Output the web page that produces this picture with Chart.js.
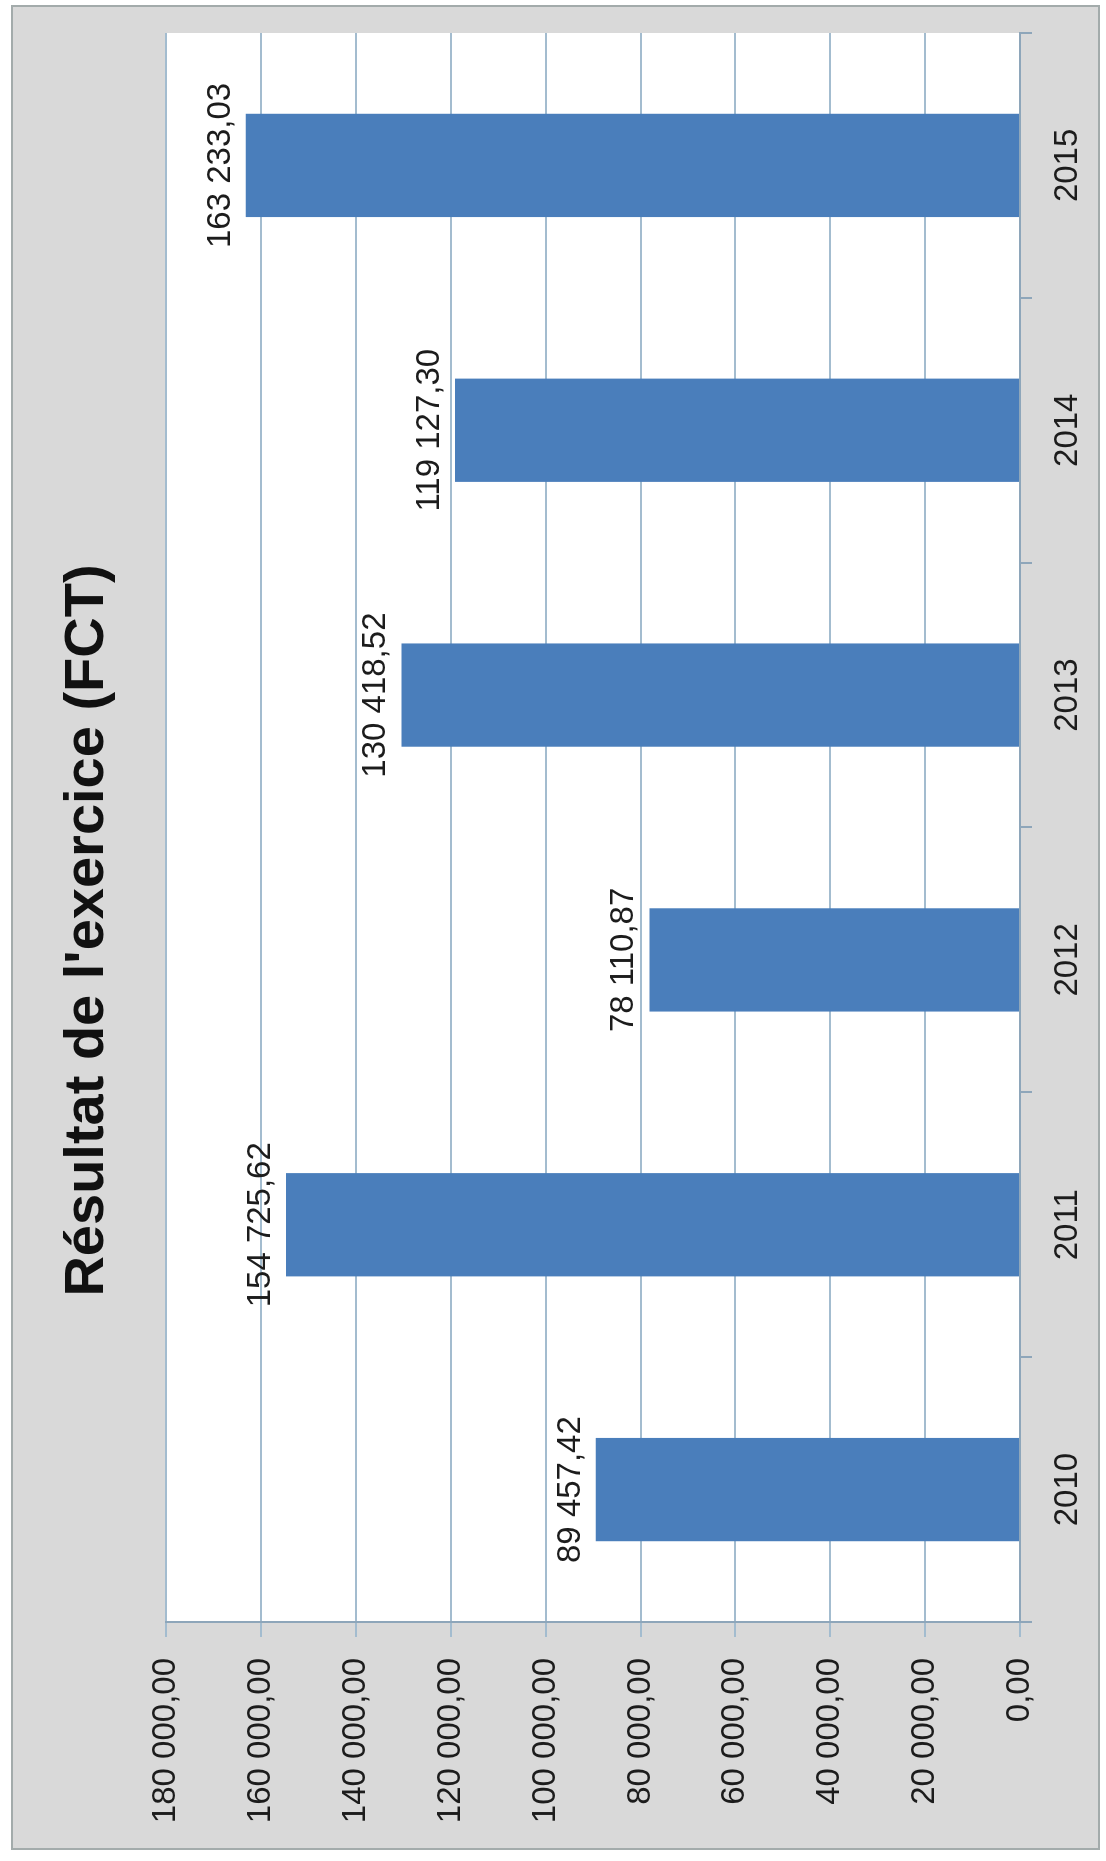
<!DOCTYPE html>
<html>
<head>
<meta charset="utf-8">
<script src="https://cdn.jsdelivr.net/npm/chart.js@4.4.0/dist/chart.umd.min.js"></script>
<style>
  html, body { margin: 0; padding: 0; background: #fff; overflow: hidden; }
  /* chart is laid out landscape, then turned a quarter to the left like the scan */
  #page { position: absolute; left: 0; top: 0; width: 1861px; height: 1106px; transform-origin: 0 0; transform: translateY(1861px) rotate(-90deg); }
  #frame { position: absolute; left: 11px; top: 11px; width: 1845px; height: 1089px; box-sizing: border-box; background: #d9d9d9; border: 2px solid #a3abab; }
  #fig { position: absolute; left: 11px; top: 11px; }
</style>
</head>
<body>
<div id="page">
  <div id="frame"></div>
  <canvas id="fig" width="1845" height="1089"></canvas>
</div>
<script>
const years = ['2010', '2011', '2012', '2013', '2014', '2015']
const result = [89457.42, 154725.62, 78110.87, 130418.52, 119127.3, 163233.03]
const valueTicks = [0, 20000, 40000, 60000, 80000, 100000, 120000, 140000, 160000, 180000]

// 163233.03 -> "163 233,03"
const frNum = (v) => {
  const [int, dec] = v.toFixed(2).split('.')
  return int.replace(/\B(?=(\d{3})+(?!\d))/g, ' ') + ',' + dec
}

const family = "'Liberation Sans', Arial, sans-serif"
const labelFont = { family: family, size: 33 }
const textColor = '#1c1c1c'
const gridColor = '#a3bccf'
const axisColor = '#8ea6ba'

// white plot area on the grey chart
const plotFill = {
  id: 'plotFill',
  beforeDraw(chart) {
    const { ctx, chartArea: a } = chart
    ctx.save()
    ctx.fillStyle = '#ffffff'
    ctx.fillRect(a.left, a.top, a.right - a.left, a.bottom - a.top)
    ctx.restore()
  },
}

// values written above each bar
const barLabels = {
  id: 'barLabels',
  afterDatasetsDraw(chart) {
    const { ctx } = chart
    const meta = chart.getDatasetMeta(0)
    ctx.save()
    ctx.font = `${labelFont.size}px ${family}`
    ctx.fillStyle = textColor
    ctx.textAlign = 'center'
    ctx.textBaseline = 'alphabetic'
    meta.data.forEach((bar, i) => {
      ctx.fillText(frNum(result[i]), bar.x, bar.y - 16)
    })
    ctx.restore()
  },
}

new Chart(document.getElementById('fig'), {
  type: 'bar',
  data: {
    labels: years,
    datasets: [
      {
        data: result,
        backgroundColor: '#4a7ebb',
        barPercentage: 0.39,
        categoryPercentage: 1,
      },
    ],
  },
  options: {
    responsive: false,
    animation: false,
    layout: { padding: { left: 22, right: 28, top: 0, bottom: 0 } },
    plugins: {
      legend: { display: false },
      tooltip: { enabled: false },
      title: {
        display: true,
        text: "Résultat de l'exercice (FCT)",
        color: '#111111',
        font: { family: family, size: 56, weight: 'bold' },
        padding: { top: 43, bottom: 45 },
      },
    },
    scales: {
      x: {
        grid: {
          offset: true,
          drawOnChartArea: false,
          tickLength: 12,
          color: axisColor,
          lineWidth: 2,
        },
        border: { color: axisColor, width: 2 },
        ticks: { font: labelFont, color: textColor, padding: 16 },
        afterFit(scale) {
          scale.height = 80
        },
      },
      y: {
        min: 0,
        max: 180000,
        afterBuildTicks(scale) {
          scale.ticks = valueTicks.map((v) => ({ value: v }))
        },
        grid: { color: gridColor, lineWidth: 2, tickLength: 15 },
        border: { color: axisColor, width: 2 },
        ticks: {
          font: labelFont,
          color: textColor,
          padding: 21,
          callback: (v) => frNum(v),
        },
        afterFit(scale) {
          scale.width = 206
        },
      },
    },
  },
  plugins: [plotFill, barLabels],
})
</script>
</body>
</html>
